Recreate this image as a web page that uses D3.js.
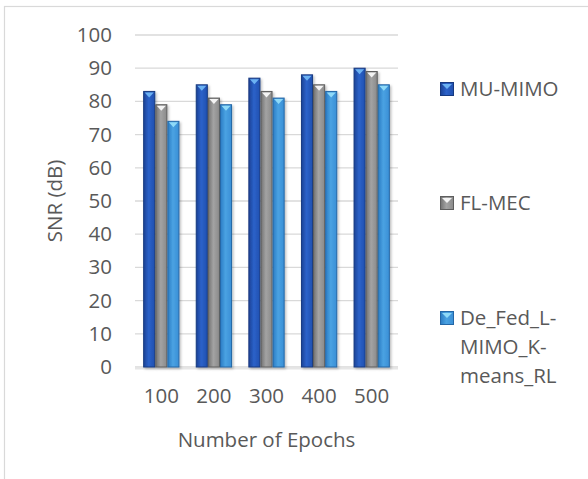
<!DOCTYPE html>
<html>
<head>
<meta charset="utf-8">
<script src="https://cdn.jsdelivr.net/npm/d3@7"></script>
<style>
  html, body { margin: 0; padding: 0; background: #fff; }
  svg { display: block; }
  text { font-family: "Open Sans", "Noto Sans", sans-serif; fill: #595959; }
</style>
</head>
<body>
<svg id="chart" width="588" height="479"></svg>
<script>
// Data
const epochs = ["100", "200", "300", "400", "500"];
const seriesNames = ["MU-MIMO", "FL-MEC", "De_Fed_L-MIMO_K-means_RL"];
const muMimo = [83, 85, 87, 88, 90];
const flMec = [79, 81, 83, 85, 89];
const deFed = [74, 79, 81, 83, 85];
const yTicks = [0, 10, 20, 30, 40, 50, 60, 70, 80, 90, 100];

const seriesValues = [muMimo, flMec, deFed];

// Shading for each series
const palettes = [
  { id: "mu", left: "#1b4296", mid: "#2c62c9", right: "#2050b0", stroke: "#173a80", cap: "#6cb2f2" },
  { id: "fl", left: "#727272", mid: "#a3a3a3", right: "#8a8a8a", stroke: "#5e5e5e", cap: "#f4f4f4" },
  { id: "de", left: "#2b7cc4", mid: "#4aa2e2", right: "#3a8fd6", stroke: "#2467a6", cap: "#8fdaf8" }
];

const FONT = "20.5px";

const svg = d3.select("#chart");
const defs = svg.append("defs");

palettes.forEach(p => {
  const g = defs.append("linearGradient").attr("id", "grad-" + p.id)
    .attr("x1", "0%").attr("x2", "100%").attr("y1", "0%").attr("y2", "0%");
  g.append("stop").attr("offset", "0%").attr("stop-color", p.left);
  g.append("stop").attr("offset", "45%").attr("stop-color", p.mid);
  g.append("stop").attr("offset", "100%").attr("stop-color", p.right);
});

const shadow = defs.append("filter").attr("id", "shadow")
  .attr("x", "-30%").attr("y", "-10%").attr("width", "170%").attr("height", "130%");
shadow.append("feDropShadow").attr("dx", 1.5).attr("dy", 1.5)
  .attr("stdDeviation", 1.2).attr("flood-color", "#000").attr("flood-opacity", 0.25);

// Outer frame
svg.append("rect").attr("x", 4.5).attr("y", 6.5).attr("width", 600).attr("height", 500)
  .attr("fill", "none").attr("stroke", "#d9d9d9").attr("stroke-width", 1.2);

const plot = { left: 135, right: 398, top: 35, bottom: 367 };

const x = d3.scaleBand().domain(epochs).range([plot.left, plot.right]).paddingInner(0.31).paddingOuter(0.155);
const xSub = d3.scaleBand().domain(d3.range(seriesNames.length)).range([0, x.bandwidth()]);
const y = d3.scaleLinear().domain([0, 100]).range([plot.bottom, plot.top]);

// Gridlines
svg.append("g").selectAll("line").data(yTicks).join("line")
  .attr("x1", plot.left).attr("x2", plot.right)
  .attr("y1", d => y(d)).attr("y2", d => y(d))
  .attr("stroke", "#d9d9d9").attr("stroke-width", 1.3);

// Floor under the bars
svg.append("line").attr("x1", plot.left).attr("x2", plot.right)
  .attr("y1", y(0) + 1.5).attr("y2", y(0) + 1.5)
  .attr("stroke", "#e6e6e6").attr("stroke-width", 2);

// Y axis labels
const yAxis = d3.axisLeft(y).tickValues(yTicks).tickSize(0).tickPadding(0);
const yg = svg.append("g").attr("transform", `translate(${plot.left - 23},0)`).call(yAxis);
yg.select(".domain").remove();
yg.selectAll("text").style("font-size", FONT).attr("fill", "#595959")
  .style("font-family", "'Open Sans', sans-serif");

// X axis labels
const xAxis = d3.axisBottom(x).tickSize(0).tickPadding(0);
const xg = svg.append("g").attr("transform", `translate(0,${plot.bottom + 21})`).call(xAxis);
xg.select(".domain").remove();
xg.selectAll("text").style("font-size", FONT).attr("fill", "#595959")
  .style("font-family", "'Open Sans', sans-serif");

// Axis titles
svg.append("text").attr("x", (plot.left + plot.right) / 2).attr("y", 447)
  .attr("text-anchor", "middle").style("font-size", FONT).text("Number of Epochs");
svg.append("text").attr("transform", `translate(62,${(plot.top + plot.bottom) / 2}) rotate(-90)`)
  .attr("text-anchor", "middle").style("font-size", FONT).text("SNR (dB)");

// Bars
const capH = 5;
const groups = svg.append("g").selectAll("g").data(epochs).join("g")
  .attr("transform", d => `translate(${x(d)},0)`);

groups.each(function (ep, i) {
  const g = d3.select(this);
  seriesValues.forEach((vals, s) => {
    const p = palettes[s];
    const bx = xSub(s), bw = xSub.bandwidth();
    const top = y(vals[i]);
    const bar = g.append("g").attr("filter", "url(#shadow)");
    bar.append("rect").attr("x", bx + 0.5).attr("y", top)
      .attr("width", bw - 1).attr("height", y(0) - top)
      .attr("fill", `url(#grad-${p.id})`).attr("stroke", p.stroke).attr("stroke-width", 1);
    bar.append("path")
      .attr("d", `M${bx + 1.5},${top + 1} L${bx + bw - 1.5},${top + 1} L${bx + bw / 2},${top + 1 + capH} Z`)
      .attr("fill", p.cap);
  });
});

// Legend: entries spread down the right-hand side
const legendItems = [
  { s: 0, lines: ["MU-MIMO"], y: 89 },
  { s: 1, lines: ["FL-MEC"], y: 203 },
  { s: 2, lines: ["De_Fed_L-", "MIMO_K-", "means_RL"], y: 318 }
];
const lg = svg.append("g");
legendItems.forEach(item => {
  const p = palettes[item.s];
  const sq = lg.append("g");
  sq.append("rect").attr("x", 440.5).attr("y", item.y - 6.5).attr("width", 13).attr("height", 13)
    .attr("fill", `url(#grad-${p.id})`).attr("stroke", p.stroke).attr("stroke-width", 1);
  sq.append("path")
    .attr("d", `M442,${item.y - 5} L452,${item.y - 5} L447,${item.y} Z`).attr("fill", p.cap);
  const t = lg.append("text").attr("x", 460).attr("y", item.y)
    .style("font-size", FONT).attr("data-series", seriesNames[item.s]);
  item.lines.forEach((ln, k) => {
    t.append("tspan").attr("x", 460).attr("dy", k === 0 ? "0.35em" : "29px").text(ln);
  });
});
</script>
</body>
</html>
